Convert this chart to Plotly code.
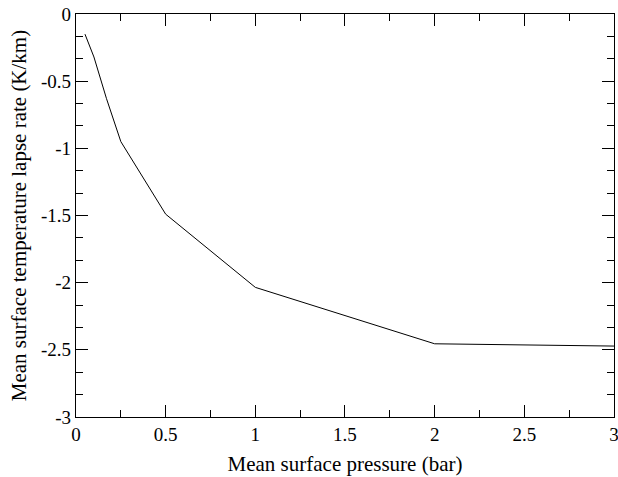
import plotly.graph_objects as go

pressure = [0.05, 0.1, 0.17, 0.25, 0.5, 1.0, 2.0, 3.0]
lapse_rate = [-0.15, -0.32, -0.63, -0.95, -1.49, -2.035, -2.455, -2.472]

x_ticks = [0, 0.5, 1, 1.5, 2, 2.5, 3]
x_labels = ["0", "0.5", "1", "1.5", "2", "2.5", "3"]
y_ticks = [0, -0.5, -1, -1.5, -2, -2.5, -3]
y_labels = ["0", "-0.5", "-1", "-1.5", "-2", "-2.5", "-3"]

family = "Liberation Serif, Times New Roman, serif"
tick_font = dict(family=family, size=19, color="black")
title_font = dict(family=family, size=21, color="black")

fig = go.Figure()
fig.add_trace(go.Scatter(x=pressure, y=lapse_rate, mode="lines",
                         line=dict(color="black", width=1), showlegend=False, cliponaxis=False))

axis_common = dict(showgrid=False, zeroline=False, showline=True, linecolor="black",
                   linewidth=1.3, mirror="allticks", ticks="inside", ticklen=12,
                   tickwidth=1, tickcolor="black", tickfont=tick_font,
                   ticklabeloverflow="allow", automargin=False)

fig.update_xaxes(range=[0, 3.0001], tickvals=x_ticks, ticktext=x_labels,
                 minor=dict(dtick=0.25, ticks="inside", ticklen=7, tickcolor="black", tickwidth=1, showgrid=False),
                 title=dict(text="Mean surface pressure (bar)", font=title_font, standoff=12),
                 **axis_common)
fig.update_yaxes(range=[-3, 0], tickvals=y_ticks, ticktext=y_labels,
                 minor=dict(dtick=0.5/3, ticks="inside", ticklen=7, tickcolor="black", tickwidth=1, showgrid=False),
                 title=dict(text="Mean surface temperature lapse rate (K/km)", font=title_font, standoff=8),
                 **axis_common)

fig.update_layout(width=618, height=477, margin=dict(l=76, r=4, t=14, b=60),
                  plot_bgcolor="white", paper_bgcolor="white")

fig.write_html("out.html")
